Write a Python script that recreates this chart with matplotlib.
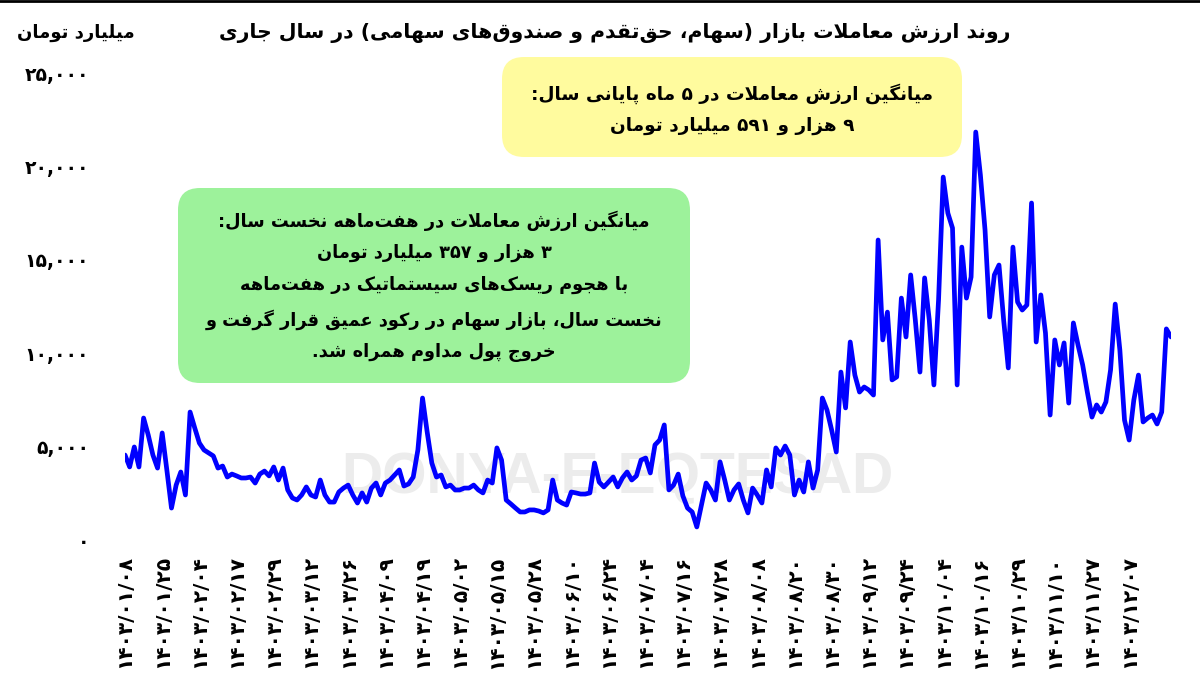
import re
import matplotlib
matplotlib.use('Agg')
import matplotlib.pyplot as plt
from matplotlib.patches import FancyBboxPatch
from matplotlib.transforms import IdentityTransform

# daily value of trades, billion toman
values = [
    4550, 3910, 4980, 3910, 6530, 5620, 4550, 3850, 5730, 3750,
    1710, 2940, 3640, 2410, 6850, 6000, 5190, 4820, 4660, 4500,
    3850, 3960, 3370, 3530, 3430, 3320, 3320, 3370, 3050, 3530,
    3690, 3430, 3910, 3210, 3850, 2680, 2250, 2140, 2410, 2840,
    2410, 2300, 3210, 2410, 2030, 2030, 2570, 2780, 2940, 2410,
    1980, 2520, 2030, 2780, 3050, 2410, 3050, 3210, 3480, 3750,
    2890, 3000, 3370, 4820, 7600, 5780, 4120, 3370, 3480, 2840,
    2940, 2680, 2680, 2780, 2780, 2940, 2680, 2520, 3210, 3050,
    4930, 4280, 2140, 1930, 1710, 1500, 1500, 1610, 1610, 1550,
    1450, 1610, 3210, 2140, 1980, 1870, 2570, 2520, 2460, 2460,
    2520, 4120, 3100, 2840, 3100, 3370, 2840, 3320, 3640, 3210,
    3430, 4280, 4390, 3590, 5090, 5350, 6160, 2680, 2940, 3530,
    2360, 1710, 1500, 700, 1870, 3050, 2680, 2140, 4180, 3210,
    2140, 2680, 3000, 2140, 1450, 2780, 2410, 1980, 3750, 2840,
    4930, 4550, 5030, 4550, 2410, 3210, 2570, 4180, 2780, 3750,
    7600, 6960, 5890, 4710, 8990, 7070, 10600, 8830, 7920, 8190,
    8030, 7760, 16060, 10710, 12200, 8570, 8730, 12950, 10870, 14190,
    11780, 8990, 14030, 11780, 8300, 12850, 19430, 17500, 16700, 8300,
    15680, 12950, 14080, 21840, 19540, 16590, 11940, 14190, 14720, 11780,
    9210, 15680, 12740, 12310, 12580, 18040, 10600, 13120, 11080, 6690,
    10710, 9370, 10550, 7330, 11620, 10440, 9370, 7920, 6580, 7230,
    6850, 7390, 9100, 12630, 10170, 6420, 5350, 7490, 8830, 6320,
    6530, 6690, 6210, 6850, 11300, 10870,
]

tick_dates = [
    '۱۴۰۳/۰۱/۰۸', '۱۴۰۳/۰۱/۲۵', '۱۴۰۳/۰۲/۰۴', '۱۴۰۳/۰۲/۱۷', '۱۴۰۳/۰۲/۲۹',
    '۱۴۰۳/۰۳/۱۲', '۱۴۰۳/۰۳/۲۶', '۱۴۰۳/۰۴/۰۹', '۱۴۰۳/۰۴/۱۹', '۱۴۰۳/۰۵/۰۲',
    '۱۴۰۳/۰۵/۱۵', '۱۴۰۳/۰۵/۲۸', '۱۴۰۳/۰۶/۱۰', '۱۴۰۳/۰۶/۲۴', '۱۴۰۳/۰۷/۰۴',
    '۱۴۰۳/۰۷/۱۶', '۱۴۰۳/۰۷/۲۸', '۱۴۰۳/۰۸/۰۸', '۱۴۰۳/۰۸/۲۰', '۱۴۰۳/۰۸/۳۰',
    '۱۴۰۳/۰۹/۱۲', '۱۴۰۳/۰۹/۲۴', '۱۴۰۳/۱۰/۰۴', '۱۴۰۳/۱۰/۱۶', '۱۴۰۳/۱۰/۲۹',
    '۱۴۰۳/۱۱/۱۰', '۱۴۰۳/۱۱/۲۷', '۱۴۰۳/۱۲/۰۷',
]
tick_step = 8

y_ticks = [0, 5000, 10000, 15000, 20000, 25000]
y_labels = ['۰', '۵,۰۰۰', '۱۰,۰۰۰', '۱۵,۰۰۰', '۲۰,۰۰۰', '۲۵,۰۰۰']

title = 'روند ارزش معاملات بازار (سهام، حق\u200cتقدم و صندوق\u200cهای سهامی) در سال جاری'
unit = 'میلیارد تومان'
note_late = 'میانگین ارزش معاملات در ۵ ماه پایانی سال:\n۹ هزار و ۵۹۱ میلیارد تومان'
note_early = ('میانگین ارزش معاملات در هفت\u200cماهه نخست سال:\n'
              '۳ هزار و ۳۵۷ میلیارد تومان\n'
              'با هجوم ریسک\u200cهای سیستماتیک در هفت\u200cماهه\n'
              'نخست سال، بازار سهام در رکود عمیق قرار گرفت و\n'
              'خروج پول مداوم همراه شد.')
watermark = 'DONYA-E-EQTESAD'


# matplotlib has no arabic shaping/bidi, so do it by hand with presentation forms
# letter -> (isolated, final, initial, medial)
FORMS = {
    'ا': ('\uFE8D', '\uFE8E', None, None),
    'آ': ('\uFE81', '\uFE82', None, None),
    'ب': ('\uFE8F', '\uFE90', '\uFE91', '\uFE92'),
    'پ': ('\uFB56', '\uFB57', '\uFB58', '\uFB59'),
    'ت': ('\uFE95', '\uFE96', '\uFE97', '\uFE98'),
    'ث': ('\uFE99', '\uFE9A', '\uFE9B', '\uFE9C'),
    'ج': ('\uFE9D', '\uFE9E', '\uFE9F', '\uFEA0'),
    'چ': ('\uFB7A', '\uFB7B', '\uFB7C', '\uFB7D'),
    'ح': ('\uFEA1', '\uFEA2', '\uFEA3', '\uFEA4'),
    'خ': ('\uFEA5', '\uFEA6', '\uFEA7', '\uFEA8'),
    'د': ('\uFEA9', '\uFEAA', None, None),
    'ذ': ('\uFEAB', '\uFEAC', None, None),
    'ر': ('\uFEAD', '\uFEAE', None, None),
    'ز': ('\uFEAF', '\uFEB0', None, None),
    'ژ': ('\uFB8A', '\uFB8B', None, None),
    'س': ('\uFEB1', '\uFEB2', '\uFEB3', '\uFEB4'),
    'ش': ('\uFEB5', '\uFEB6', '\uFEB7', '\uFEB8'),
    'ص': ('\uFEB9', '\uFEBA', '\uFEBB', '\uFEBC'),
    'ض': ('\uFEBD', '\uFEBE', '\uFEBF', '\uFEC0'),
    'ط': ('\uFEC1', '\uFEC2', '\uFEC3', '\uFEC4'),
    'ظ': ('\uFEC5', '\uFEC6', '\uFEC7', '\uFEC8'),
    'ع': ('\uFEC9', '\uFECA', '\uFECB', '\uFECC'),
    'غ': ('\uFECD', '\uFECE', '\uFECF', '\uFED0'),
    'ف': ('\uFED1', '\uFED2', '\uFED3', '\uFED4'),
    'ق': ('\uFED5', '\uFED6', '\uFED7', '\uFED8'),
    'ک': ('\uFB8E', '\uFB8F', '\uFB90', '\uFB91'),
    'گ': ('\uFB92', '\uFB93', '\uFB94', '\uFB95'),
    'ل': ('\uFEDD', '\uFEDE', '\uFEDF', '\uFEE0'),
    'م': ('\uFEE1', '\uFEE2', '\uFEE3', '\uFEE4'),
    'ن': ('\uFEE5', '\uFEE6', '\uFEE7', '\uFEE8'),
    'و': ('\uFEED', '\uFEEE', None, None),
    'ه': ('\uFEE9', '\uFEEA', '\uFEEB', '\uFEEC'),
    'ی': ('\uFBFC', '\uFBFD', '\uFBFE', '\uFBFF'),
}
LAM_ALEF = ('\uFEFB', '\uFEFC')


def links_forward(c):
    return c in FORMS and FORMS[c][2] is not None


def shape(line):
    out = []
    i, n = 0, len(line)
    while i < n:
        c = line[i]
        if c not in FORMS:
            if c != '\u200c':
                out.append(c)
            i += 1
            continue
        joined_prev = i > 0 and links_forward(line[i - 1])
        if c == 'ل' and i + 1 < n and line[i + 1] == 'ا':
            out.append(LAM_ALEF[1 if joined_prev else 0])
            i += 2
            continue
        joined_next = links_forward(c) and i + 1 < n and line[i + 1] in FORMS
        iso, fin, ini, med = FORMS[c]
        if joined_prev and joined_next:
            out.append(med)
        elif joined_prev:
            out.append(fin)
        elif joined_next:
            out.append(ini)
        else:
            out.append(iso)
        i += 1
    return ''.join(out)


def rtl(text):
    lines = []
    for line in text.split('\n'):
        s = shape(line)[::-1]
        s = re.sub(r'[0-9\u06F0-\u06F9]+', lambda m: m.group(0)[::-1], s)
        s = s.translate(str.maketrans('()', ')('))
        lines.append(s)
    return '\n'.join(lines)


plt.rcParams['font.family'] = 'DejaVu Sans'

W, H = 1200, 691
fig = plt.figure(figsize=(W / 100, H / 100), dpi=100)
ax = fig.add_axes([125 / W, 151 / H, (1171 - 125) / W, 467 / H])

x = list(range(len(values)))
ax.plot(x, values, color='#0000FF', lw=3.4, solid_joinstyle='round',
        solid_capstyle='round', zorder=3)
ax.set_xlim(0, len(values) - 1)
ax.set_ylim(0, 25000)
for s in ax.spines.values():
    s.set_visible(False)

ax.set_xticks(x[::tick_step][:len(tick_dates)], tick_dates, rotation=90,
              fontsize=14.5, fontweight='bold')
ax.set_yticks(y_ticks, y_labels, fontsize=13.5, fontweight='bold')
ax.tick_params(axis='x', length=0, pad=11)
ax.tick_params(axis='y', length=0, pad=26)

ax.text(617 / W, 1 - 478 / H, watermark, transform=fig.transFigure,
        family='Liberation Sans', fontweight='bold', fontsize=41,
        color='#ececec', ha='center', va='center', zorder=1)

fig.text(1010 / W, 1 - 33 / H, rtl(title), ha='right', va='center',
         fontsize=14.7, fontweight='bold')
fig.text(135 / W, 1 - 33 / H, rtl(unit), ha='right', va='center',
         fontsize=13, fontweight='bold')
fig.add_artist(plt.Line2D([0, 1], [0.998, 0.998], transform=fig.transFigure,
                          color='black', lw=2))


def note_box(x0, y0, x1, y1, color):
    box = FancyBboxPatch((x0, H - y1), x1 - x0, y1 - y0,
                         boxstyle='round,pad=0,rounding_size=22',
                         transform=IdentityTransform(), fc=color, ec='none',
                         zorder=4)
    fig.add_artist(box)


note_box(502, 57, 962, 157, '#fffb9e')
fig.text(732 / W, 1 - 109 / H, rtl(note_late), ha='center', va='center',
         multialignment='center', fontsize=13.3, fontweight='bold',
         linespacing=1.9, zorder=5)

note_box(178, 188, 690, 383, '#9df29b')
fig.text(434 / W, 1 - 286 / H, rtl(note_early), ha='center', va='center',
         multialignment='center', fontsize=12.8, fontweight='bold',
         linespacing=1.95, zorder=5)

fig.savefig('out.png', dpi=100)
